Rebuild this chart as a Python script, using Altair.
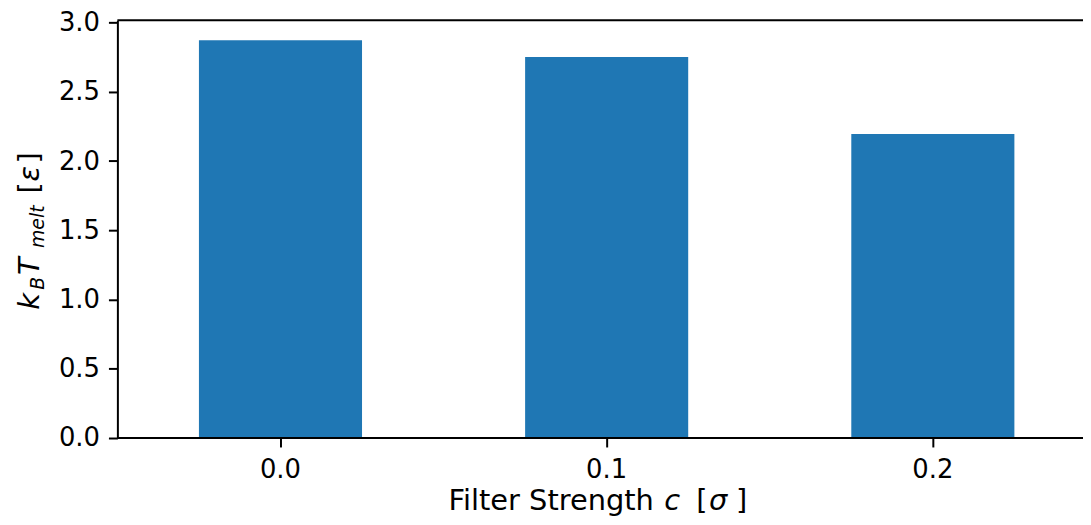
import altair as alt
import pandas as pd

# ---- data ----
filter_strength = ["0.0", "0.1", "0.2"]
t_melt = [2.872, 2.752, 2.195]
y_ticks = [0.0, 0.5, 1.0, 1.5, 2.0, 2.5, 3.0]
y_max = 3.016

# ---- layout / style ----
W = 971          # visible plot width
H = 420          # plot height
X_RANGE = 984    # full axis extent (right part cropped like the reference)
FONT = "DejaVu Sans"
TICK_FS = 26
TITLE_FS = 29
SUB_FS = 19
BLUE = "#1f77b4"

df = pd.DataFrame({"c": filter_strength, "t": t_melt})

bars = alt.Chart(df).mark_bar(color=BLUE).encode(
    x=alt.X(
        "c:N",
        sort=filter_strength,
        scale=alt.Scale(range=[0, X_RANGE], paddingInner=0.5, paddingOuter=0.25),
        axis=alt.Axis(
            title=None, labelAngle=0, domain=False, grid=False,
            tickSize=9, tickWidth=2, tickColor="black",
            labelFont=FONT, labelFontSize=TICK_FS, labelColor="black",
            labelPadding=10,
        ),
    ),
    y=alt.Y(
        "t:Q",
        scale=alt.Scale(domain=[0, y_max], nice=False, zero=True),
        axis=alt.Axis(
            title=None, values=y_ticks, format=".1f", grid=False,
            domainColor="black", domainWidth=2,
            tickSize=9, tickWidth=2, tickColor="black",
            labelFont=FONT, labelFontSize=TICK_FS, labelColor="black",
            labelPadding=9,
        ),
    ),
)

one = alt.Data(values=[{"k": 0}])

top_rule = alt.Chart(one).mark_rule(color="black", strokeWidth=2).encode(
    x=alt.value(0), x2=alt.value(W), y=alt.value(0)
)
bottom_rule = alt.Chart(one).mark_rule(color="black", strokeWidth=2).encode(
    x=alt.value(0), x2=alt.value(W), y=alt.value(H)
)


def txt(text, x, y, dx, dy, size, italic=False, angle=0):
    props = dict(
        text=text, align="left", baseline="alphabetic", font=FONT,
        fontSize=size, fontStyle="italic" if italic else "normal",
        color="black", dx=dx, dy=dy,
    )
    if angle:
        props["angle"] = angle
    return alt.Chart(one).mark_text(**props).encode(x=alt.value(x), y=alt.value(y))


# x-axis title: "Filter Strength c [σ]"
XT_X, XT_Y = 333, 492
x_title = [
    txt("Filter Strength", XT_X, XT_Y, 0, 0, TITLE_FS),
    txt("c", XT_X, XT_Y, 217, 0, TITLE_FS, italic=True),
    txt("[", XT_X, XT_Y, 249, 0, TITLE_FS),
    txt("σ", XT_X, XT_Y, 262, 0, TITLE_FS, italic=True),
    txt("]", XT_X, XT_Y, 289, 0, TITLE_FS),
]

# y-axis title: "k_B T_melt [ε]" (rotated)
YT_X, YT_Y = -79, 291
y_title = [
    txt("k", YT_X, YT_Y, 0, 0, TITLE_FS, italic=True, angle=270),
    txt("B", YT_X, YT_Y, 20, 5, SUB_FS, italic=True, angle=270),
    txt("T", YT_X, YT_Y, 35, 0, TITLE_FS, italic=True, angle=270),
    txt("melt", YT_X, YT_Y, 62, 5, SUB_FS, italic=True, angle=270),
    txt("[", YT_X, YT_Y, 117, 0, TITLE_FS, angle=270),
    txt("ε", YT_X, YT_Y, 129, 0, TITLE_FS, italic=True, angle=270),
    txt("]", YT_X, YT_Y, 147, 0, TITLE_FS, angle=270),
]

chart = alt.layer(bars, top_rule, bottom_rule, *x_title, *y_title).properties(
    width=W,
    height=H,
    autosize=alt.AutoSizeParams(type="none"),
    padding={"left": 110, "top": 11, "right": 0, "bottom": 78},
    background="white",
).configure_view(stroke=None)

chart.save("out.html", embed_options={"renderer": "svg", "actions": False})
